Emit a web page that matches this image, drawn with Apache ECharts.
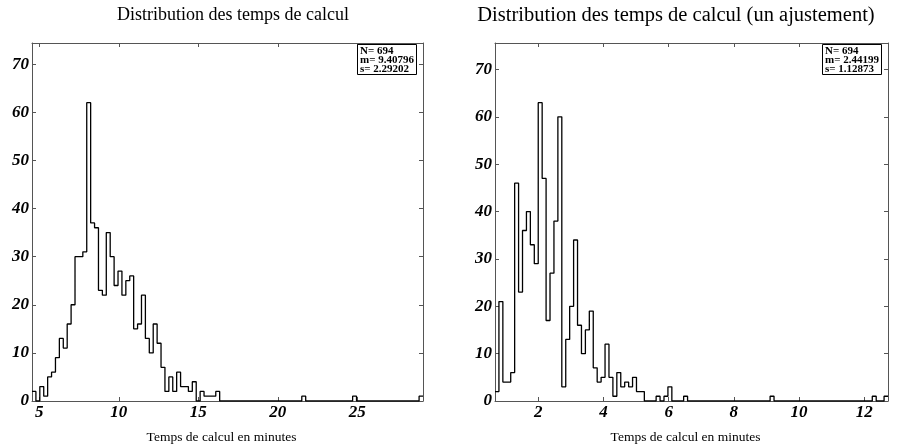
<!DOCTYPE html>
<html>
<head>
<meta charset="utf-8">
<script src="https://cdn.jsdelivr.net/npm/echarts@6/dist/echarts.min.js"></script>
<style>
  html, body { margin: 0; padding: 0; background: #fff; }
  #chart { width: 910px; height: 445px; }
</style>
</head>
<body>
<div id="chart"></div>
<script>
// histogram counts, 100 bins each
const leftCounts = [
  2, 0, 3, 1, 5, 6, 9, 13, 11, 16,
  20, 30, 30, 31, 62, 37, 36, 23, 22, 35,
  30, 24, 27, 22, 25, 26, 15, 16, 22, 13,
  10, 16, 12, 7, 2, 5, 2, 6, 3, 3,
  2, 4, 0, 2, 1, 1, 1, 2, 0, 0,
  0, 0, 0, 0, 0, 0, 0, 0, 0, 0,
  0, 0, 0, 0, 0, 0, 0, 0, 0, 1,
  0, 0, 0, 0, 0, 0, 0, 0, 0, 0,
  0, 0, 1, 0, 0, 0, 0, 0, 0, 0,
  0, 0, 0, 0, 0, 0, 0, 0, 0, 1
];
const rightCounts = [
  2, 21, 4, 4, 6, 46, 23, 36, 40, 33,
  29, 63, 47, 17, 27, 38, 60, 3, 13, 20,
  34, 16, 10, 15, 19, 7, 4, 5, 12, 5,
  1, 6, 3, 4, 3, 5, 2, 2, 0, 0,
  0, 1, 0, 1, 3, 0, 0, 0, 1, 0,
  0, 0, 0, 0, 0, 0, 0, 0, 0, 0,
  0, 0, 0, 0, 0, 0, 0, 0, 0, 0,
  1, 0, 0, 0, 0, 0, 0, 0, 0, 0,
  0, 0, 0, 0, 0, 0, 0, 0, 0, 0,
  0, 0, 0, 0, 0, 0, 1, 0, 0, 1
];
const leftRange = [4.54, 29.13];
const rightRange = [0.67, 12.73];
const leftYMax = 74.4;
const rightYMax = 75.6;
const leftStats = ['N= 694', 'm= 9.40796', 's= 2.29202'];
const rightStats = ['N= 694', 'm= 2.44199', 's= 1.12873'];
const titles = ['Distribution des temps de calcul', 'Distribution des temps de calcul (un ajustement)'];
const xName = 'Temps de calcul en minutes';

// bin edges -> points for a step line
function stepData(counts, range) {
  const w = (range[1] - range[0]) / counts.length;
  const pts = counts.map((c, i) => [range[0] + i * w, c]);
  pts.push([range[1], counts[counts.length - 1]]);
  return pts;
}

const serif = 'Liberation Serif';
const frameColor = '#555';

function onlyMultiples(step) {
  return v => {
    const r = Math.abs(v / step - Math.round(v / step));
    return r < 1e-6 ? String(Math.round(v)) : '';
  };
}

function xAxes(grid, range, split, step, withName) {
  const base = {
    type: 'value',
    gridIndex: grid,
    min: range[0],
    max: range[1],
    splitNumber: split,
    splitLine: { show: false },
    axisLine: { show: true, onZero: false, lineStyle: { color: frameColor, width: 1 } },
    axisTick: { show: true, inside: true, length: 4, lineStyle: { color: frameColor } }
  };
  return [
    Object.assign({}, base, {
      position: 'bottom',
      name: withName,
      nameLocation: 'middle',
      nameGap: 29,
      nameTextStyle: { fontFamily: serif, fontSize: 13.5, color: '#000', padding: [0, 12, 0, 0] },
      axisLabel: {
        fontFamily: serif, fontWeight: 'bold', fontStyle: 'italic', fontSize: 17,
        color: '#000', margin: 3, formatter: onlyMultiples(step)
      }
    }),
    Object.assign({}, base, { position: 'top', axisLabel: { show: false } })
  ];
}

function yAxes(grid, ymax) {
  const base = {
    type: 'value',
    gridIndex: grid,
    min: 0,
    max: ymax,
    interval: 10,
    splitLine: { show: false },
    axisLine: { show: true, lineStyle: { color: frameColor, width: 1 } },
    axisTick: { show: true, inside: true, length: 4, lineStyle: { color: frameColor } }
  };
  return [
    Object.assign({}, base, {
      position: 'left',
      axisLabel: {
        fontFamily: serif, fontWeight: 'bold', fontStyle: 'italic', fontSize: 17,
        color: '#000', margin: 3, formatter: onlyMultiples(10)
      }
    }),
    Object.assign({}, base, { position: 'right', axisLabel: { show: false } })
  ];
}

function statsBox(lines, left) {
  return {
    text: lines.join('\n'),
    left: left,
    top: 45,
    padding: [1, 3, 0, 3],
    borderColor: '#000',
    borderWidth: 1,
    backgroundColor: '#fff',
    textStyle: { fontFamily: serif, fontWeight: 'bold', fontSize: 11, lineHeight: 9.4, color: '#000' }
  };
}

const chart = echarts.init(document.getElementById('chart'));

chart.setOption({
  animation: false,
  title: [
    { text: titles[0], left: 228, top: 1, textAlign: 'center',
      textStyle: { fontFamily: serif, fontWeight: 'normal', fontSize: 18, color: '#000' } },
    { text: titles[1], left: 671, top: 0, textAlign: 'center',
      textStyle: { fontFamily: serif, fontWeight: 'normal', fontSize: 20.5, color: '#000' } },
    statsBox(leftStats, 357),
    statsBox(rightStats, 822)
  ],
  grid: [
    { left: 32, top: 43, width: 391, height: 358, outerBoundsMode: 'none' },
    { left: 495, top: 43, width: 393, height: 358, outerBoundsMode: 'none' }
  ],
  xAxis: [].concat(
    xAxes(0, leftRange, 5, 5, xName),
    xAxes(1, rightRange, 6, 2, xName)
  ),
  yAxis: [].concat(yAxes(0, leftYMax), yAxes(1, rightYMax)),
  series: [
    {
      type: 'line', xAxisIndex: 0, yAxisIndex: 0, step: 'end', showSymbol: false,
      lineStyle: { color: '#000', width: 1.3 },
      data: stepData(leftCounts, leftRange)
    },
    {
      type: 'line', xAxisIndex: 2, yAxisIndex: 2, step: 'end', showSymbol: false,
      lineStyle: { color: '#000', width: 1.3 },
      data: stepData(rightCounts, rightRange)
    }
  ]
});
</script>
</body>
</html>
